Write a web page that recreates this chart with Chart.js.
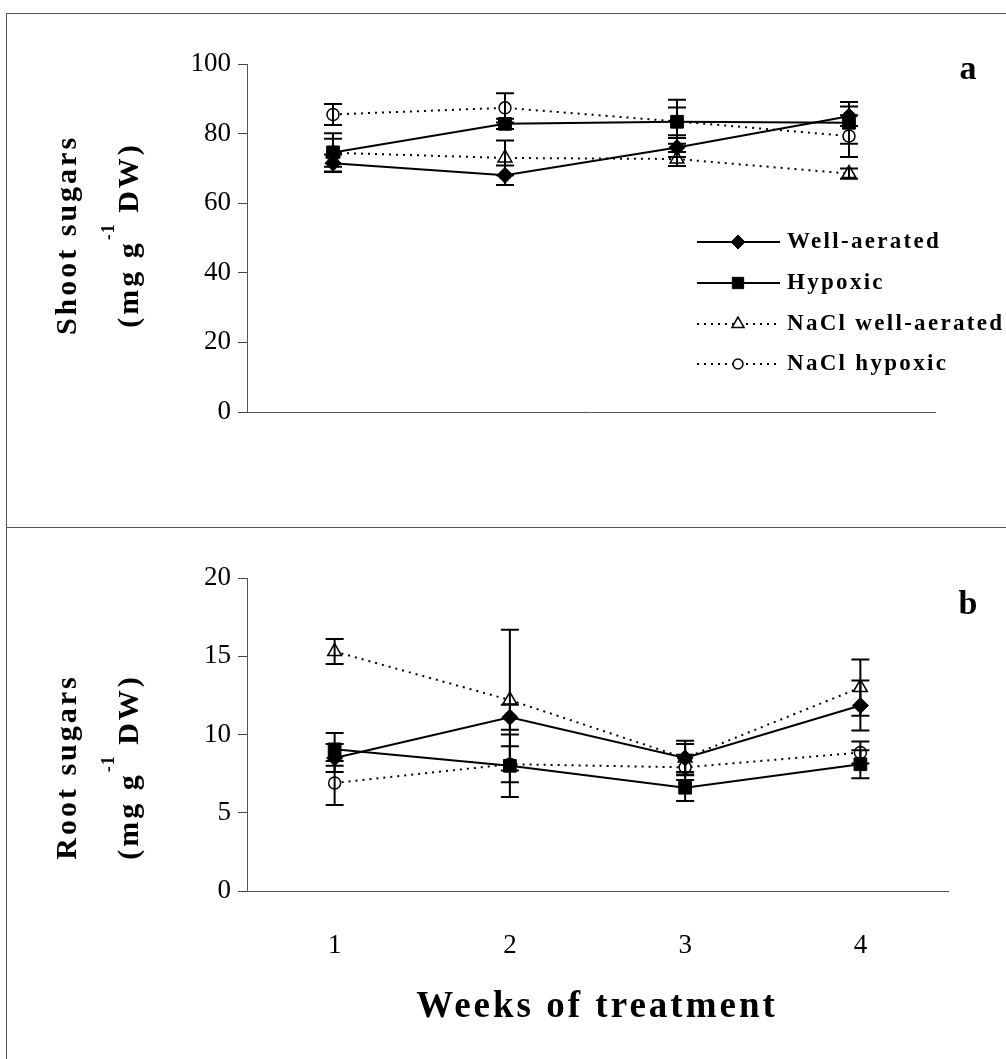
<!DOCTYPE html>
<html>
<head>
<meta charset="utf-8">
<script src="https://cdn.jsdelivr.net/npm/chart.js@4.4.1/dist/chart.umd.min.js"></script>
<style>
  body { margin: 0; background: #fff; }
  #wrap { position: relative; width: 1006px; height: 1059px; overflow: hidden; }
  canvas { position: absolute; left: 0; }
  #chartA { top: 0; }
  #chartB { top: 527px; }
  .rule { position: absolute; background: #555; }
</style>
</head>
<body>
<div id="wrap">
  <canvas id="chartA" width="1006" height="527"></canvas>
  <canvas id="chartB" width="1006" height="532"></canvas>
  <div class="rule" style="left:6px;top:13px;width:1000px;height:1px"></div>
  <div class="rule" style="left:6px;top:13px;width:1px;height:1046px"></div>
  <div class="rule" style="left:6px;top:527px;width:1000px;height:1px"></div>
</div>
<script>
// weeks of treatment
var weeks = ["1", "2", "3", "4"];

// panel a - shoot sugars (mg g-1 DW)
var shootWell = [71.5, 68, 76, 85];
var shootWellErr = [2.5, 2.8, 2.7, 2.8];
var shootHyp = [74.6, 82.8, 83.4, 83.1];
var shootHypErr = [5.5, 1.5, 6.3, 6];
var shootNaclWell = [74.5, 73, 72.7, 68.5];
var shootNaclWellErr = [4, 5, 2, 1.5];
var shootNaclHyp = [85.5, 87.4, 83.5, 79.3];
var shootNaclHypErr = [3, 4.2, 4, 6];
var shootTicks = [0, 20, 40, 60, 80, 100];

// panel b - root sugars (mg g-1 DW)
var rootWell = [8.5, 11.1, 8.5, 11.85];
var rootWellErr = [0.9, 0.8, 1.1, 1.6];
var rootHyp = [9.05, 8.0, 6.6, 8.1];
var rootHypErr = [1.05, 2.0, 0.85, 0.9];
var rootNaclWell = [15.3, 12.2, 8.5, 13.0];
var rootNaclWellErr = [0.8, 4.5, 0.9, 1.8];
var rootNaclHyp = [6.9, 8.1, 7.9, 8.85];
var rootNaclHypErr = [1.4, 1.15, 0.8, 0.7];
var rootTicks = [0, 5, 10, 15, 20];

var seriesNames = ["Well-aerated", "Hypoxic", "NaCl well-aerated", "NaCl hypoxic"];

var SERIF = "'Liberation Serif', 'Times New Roman', serif";

function makeDatasets(well, wellErr, hyp, hypErr, nw, nwErr, nh, nhErr) {
  var solid = { borderColor: "#000", borderWidth: 2, fill: false, tension: 0 };
  var dotted = { borderColor: "#000", borderWidth: 2, borderDash: [2, 5], fill: false, tension: 0 };
  return [
    Object.assign({ label: seriesNames[0], data: well, errors: wellErr,
      pointStyle: "rectRot", pointRadius: 8, pointBackgroundColor: "#000", pointBorderColor: "#000", pointBorderWidth: 1 }, solid),
    Object.assign({ label: seriesNames[1], data: hyp, errors: hypErr,
      pointStyle: "rect", pointRadius: 9, pointBackgroundColor: "#000", pointBorderColor: "#000", pointBorderWidth: 1 }, solid),
    Object.assign({ label: seriesNames[2], data: nw, errors: nwErr,
      pointStyle: "triangle", pointRadius: 8, pointBackgroundColor: "#fff", pointBorderColor: "#000", pointBorderWidth: 1.5 }, dotted),
    Object.assign({ label: seriesNames[3], data: nh, errors: nhErr,
      pointStyle: "circle", pointRadius: 6, pointBackgroundColor: "#fff", pointBorderColor: "#000", pointBorderWidth: 1.5 }, dotted)
  ];
}

// vertical error bars drawn through the y scale
var errorBars = {
  id: "errorBars",
  afterDatasetsDraw: function (chart) {
    var ctx = chart.ctx, ys = chart.scales.y;
    chart.data.datasets.forEach(function (ds, i) {
      var meta = chart.getDatasetMeta(i);
      ctx.save();
      ctx.strokeStyle = "#000";
      ctx.lineWidth = 2;
      meta.data.forEach(function (pt, j) {
        var v = ds.data[j], e = ds.errors[j];
        var top = ys.getPixelForValue(v + e), bot = ys.getPixelForValue(v - e);
        ctx.beginPath();
        ctx.moveTo(pt.x, top); ctx.lineTo(pt.x, bot);
        ctx.moveTo(pt.x - 9, top); ctx.lineTo(pt.x + 9, top);
        ctx.moveTo(pt.x - 9, bot); ctx.lineTo(pt.x + 9, bot);
        ctx.stroke();
      });
      ctx.restore();
    });
  }
};

// rotated y title with superscript -1, panel letter
function textPlugin(title, titleCy, letter, letterY) {
  return {
    id: "texts",
    afterDraw: function (chart) {
      var ctx = chart.ctx;
      var big = "bold 30px " + SERIF, small = "bold 18px " + SERIF;
      ctx.save();
      ctx.fillStyle = "#000";
      ctx.textBaseline = "middle";
      // first line
      ctx.save();
      ctx.translate(68, titleCy);
      ctx.rotate(-Math.PI / 2);
      ctx.font = big;
      ctx.letterSpacing = "3px";
      ctx.textAlign = "center";
      ctx.fillText(title, 0, 0);
      ctx.restore();
      // second line with superscript
      ctx.save();
      ctx.translate(130, titleCy);
      ctx.rotate(-Math.PI / 2);
      ctx.textAlign = "left";
      var p1 = "(mg g", p3 = " DW)";
      ctx.font = big;
      ctx.letterSpacing = "3px";
      var w1 = ctx.measureText(p1).width;
      var w3 = ctx.measureText(p3).width;
      ctx.font = small;
      ctx.letterSpacing = "1px";
      var w2 = ctx.measureText("-1").width;
      var x0 = -(w1 + w2 + w3) / 2;
      ctx.font = big;
      ctx.letterSpacing = "3px";
      ctx.fillText(p1, x0, 0);
      ctx.font = small;
      ctx.letterSpacing = "1px";
      ctx.fillText("-1", x0 + w1, -21);
      ctx.font = big;
      ctx.letterSpacing = "3px";
      ctx.fillText(p3, x0 + w1 + w2, 0);
      ctx.restore();
      // panel letter
      ctx.font = "bold 34px " + SERIF;
      ctx.textAlign = "center";
      ctx.fillText(letter, 968, letterY);
      ctx.restore();
    }
  };
}

// legend inside panel a
var legendA = {
  id: "legendA",
  afterDraw: function (chart) {
    var ctx = chart.ctx;
    var rows = [242, 283, 324, 364];
    chart.data.datasets.forEach(function (ds, i) {
      var y = rows[i];
      ctx.save();
      ctx.strokeStyle = "#000";
      ctx.lineWidth = 2;
      ctx.setLineDash(ds.borderDash || []);
      ctx.beginPath();
      ctx.moveTo(697, y); ctx.lineTo(780, y);
      ctx.stroke();
      ctx.setLineDash([]);
      ctx.fillStyle = ds.pointBackgroundColor;
      ctx.strokeStyle = "#000";
      ctx.lineWidth = ds.pointBorderWidth;
      Chart.helpers.drawPoint(ctx, {
        pointStyle: ds.pointStyle, radius: ds.pointRadius - 1,
        borderWidth: ds.pointBorderWidth, rotation: 0
      }, 738, y);
      ctx.fillStyle = "#000";
      ctx.font = "bold 23px " + SERIF;
      ctx.letterSpacing = "2.3px";
      ctx.textBaseline = "middle";
      ctx.textAlign = "left";
      ctx.fillText(ds.label, 787, y);
      ctx.restore();
    });
  }
};

var xTitleB = {
  id: "xTitleB",
  afterDraw: function (chart) {
    var ctx = chart.ctx;
    ctx.save();
    ctx.fillStyle = "#000";
    ctx.font = "bold 37px " + SERIF;
    ctx.letterSpacing = "3px";
    ctx.textAlign = "center";
    ctx.textBaseline = "middle";
    ctx.fillText("Weeks of treatment", 597, 480);
    ctx.restore();
  }
};

function yScale(ticks, leftWidth) {
  return {
    min: ticks[0],
    max: ticks[ticks.length - 1],
    afterBuildTicks: function (s) { s.ticks = ticks.map(function (v) { return { value: v }; }); },
    afterFit: function (s) { s.width = leftWidth; },
    grid: { drawOnChartArea: false, drawTicks: true, tickLength: 9, color: "#444", lineWidth: 1 },
    border: { display: true, color: "#555", width: 1 },
    ticks: { color: "#000", padding: 7, font: { family: SERIF, size: 27 } }
  };
}

var common = {
  responsive: false,
  animation: false,
  events: [],
  plugins: { legend: { display: false }, tooltip: { enabled: false } }
};

var ctxA = document.getElementById("chartA").getContext("2d");
var chartA = new Chart(ctxA, {
  type: "line",
  data: {
    labels: weeks,
    datasets: makeDatasets(shootWell, shootWellErr, shootHyp, shootHypErr,
      shootNaclWell, shootNaclWellErr, shootNaclHyp, shootNaclHypErr)
  },
  options: Object.assign({}, common, {
    layout: { padding: { left: 0, right: 71, top: 64, bottom: 0 } },
    scales: {
      x: {
        type: "category",
        offset: true,
        afterFit: function (s) { s.height = 115; },
        grid: { display: false },
        border: { display: true, color: "#555", width: 1 },
        ticks: { display: false }
      },
      y: yScale(shootTicks, 247)
    }
  }),
  plugins: [errorBars, textPlugin("Shoot sugars", 235, "a", 70), legendA]
});

var ctxB = document.getElementById("chartB").getContext("2d");
var chartB = new Chart(ctxB, {
  type: "line",
  data: {
    labels: weeks,
    datasets: makeDatasets(rootWell, rootWellErr, rootHyp, rootHypErr,
      rootNaclWell, rootNaclWellErr, rootNaclHyp, rootNaclHypErr)
  },
  options: Object.assign({}, common, {
    layout: { padding: { left: 0, right: 58, top: 51, bottom: 0 } },
    scales: {
      x: {
        type: "category",
        offset: true,
        afterFit: function (s) { s.height = 168; },
        grid: { display: false },
        border: { display: true, color: "#555", width: 1 },
        ticks: { color: "#000", padding: 31, font: { family: SERIF, size: 27 } }
      },
      y: yScale(rootTicks, 247)
    }
  }),
  plugins: [errorBars, textPlugin("Root sugars", 240, "b", 78), xTitleB]
});
</script>
</body>
</html>
